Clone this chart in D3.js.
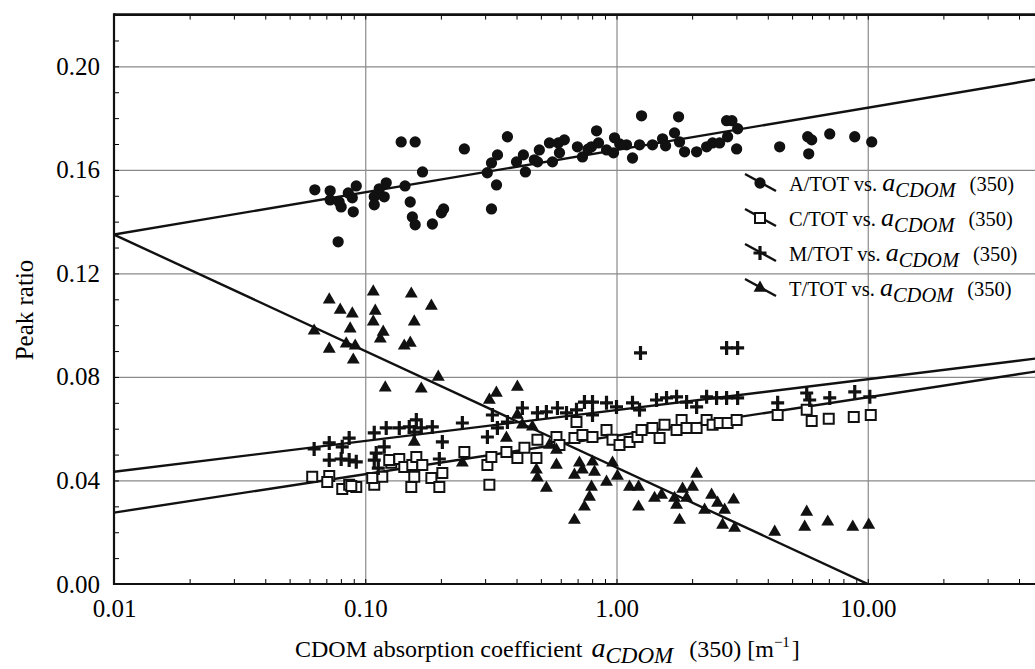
<!DOCTYPE html>
<html>
<head>
<meta charset="utf-8">
<script src="https://cdn.jsdelivr.net/npm/d3@7"></script>
<style>
  body { margin: 0; background: #fff; }
  svg { display: block; font-family: "Liberation Serif", "Times New Roman", serif; }
</style>
</head>
<body>
<div class="chart"></div>
<script>
// Peak ratios vs CDOM absorption (x = a_CDOM(350), y = ratio)
const seriesA = [
  [0.063, 0.1523], [0.0725, 0.1519], [0.0725, 0.1484], [0.0787, 0.1476], [0.0802, 0.1457],
  [0.0856, 0.1511], [0.0888, 0.1492], [0.0921, 0.1538], [0.0896, 0.1438], [0.078, 0.1322],
  [0.1086, 0.1496], [0.1086, 0.1465], [0.1137, 0.1527], [0.1212, 0.155], [0.119, 0.1496],
  [0.139, 0.1708], [0.158, 0.1708], [0.144, 0.1538], [0.151, 0.1476], [0.154, 0.1418],
  [0.158, 0.1388], [0.169, 0.1592], [0.185, 0.1391], [0.201, 0.1434], [0.205, 0.1449],
  [0.248, 0.1681], [0.306, 0.1589], [0.318, 0.1627], [0.333, 0.1542], [0.336, 0.1658],
  [0.318, 0.1449], [0.368, 0.1728], [0.40, 0.1631], [0.426, 0.1658], [0.434, 0.1592],
  [0.471, 0.1639], [0.493, 0.1677], [0.485, 0.1631], [0.541, 0.1704], [0.556, 0.1631],
  [0.587, 0.1704], [0.593, 0.1666], [0.62, 0.1716], [0.699, 0.1689], [0.732, 0.165],
  [0.77, 0.168], [0.795, 0.1689], [0.833, 0.1751], [0.848, 0.1704], [0.913, 0.1677],
  [0.982, 0.1724], [0.973, 0.1666], [1.03, 0.170], [1.096, 0.1697], [1.158, 0.1646],
  [1.258, 0.1809], [1.235, 0.1697], [1.391, 0.1697], [1.525, 0.172], [1.568, 0.1693],
  [1.702, 0.1743], [1.766, 0.1805], [1.782, 0.1708], [1.866, 0.167], [2.084, 0.167],
  [2.284, 0.1689], [2.413, 0.1704], [2.573, 0.1704], [2.743, 0.179], [2.88, 0.179],
  [2.768, 0.1728], [3.007, 0.1681], [3.035, 0.1759], [4.461, 0.1689], [5.768, 0.1728],
  [5.983, 0.1716], [5.821, 0.1662], [7.058, 0.1739], [8.877, 0.1728], [10.37, 0.1708]
];

const seriesC = [
  [0.0615, 0.0414], [0.0719, 0.0417], [0.0706, 0.0394], [0.081, 0.0367], [0.0863, 0.0383],
  [0.0921, 0.0375], [0.088, 0.0379], [0.1086, 0.0383], [0.1169, 0.0414], [0.1269, 0.0468],
  [0.1066, 0.041], [0.1246, 0.0479], [0.1366, 0.0483], [0.143, 0.0452], [0.1539, 0.046],
  [0.1597, 0.0491], [0.1687, 0.046], [0.1567, 0.0414], [0.1525, 0.0375], [0.1833, 0.041],
  [0.1972, 0.0375], [0.2027, 0.0429], [0.248, 0.051], [0.3119, 0.0383], [0.3063, 0.046],
  [0.3177, 0.0491], [0.3646, 0.051], [0.4032, 0.0487], [0.4301, 0.0526], [0.4801, 0.0487],
  [0.4845, 0.0557], [0.5768, 0.0568], [0.5929, 0.0537], [0.6802, 0.0564], [0.7319, 0.0576],
  [0.693, 0.0626], [0.8026, 0.0568], [0.9125, 0.0595], [0.9641, 0.0557], [1.028, 0.0537],
  [1.127, 0.0549], [1.212, 0.0568], [1.258, 0.0595], [1.391, 0.0603], [1.484, 0.0564],
  [1.553, 0.0615], [1.734, 0.0595], [1.816, 0.0634], [1.901, 0.0603], [2.084, 0.0603],
  [2.284, 0.0634], [2.413, 0.0615], [2.573, 0.0622], [2.768, 0.0622], [3.007, 0.0634],
  [4.38, 0.0653], [5.715, 0.0673], [5.983, 0.063], [6.994, 0.0638], [8.796, 0.0645],
  [10.28, 0.0653]
];

const seriesM = [
  [0.0626, 0.0522], [0.0719, 0.0545], [0.081, 0.053], [0.0863, 0.0564], [0.0719, 0.0479],
  [0.0802, 0.0483], [0.0863, 0.0479], [0.0921, 0.0472], [0.1086, 0.0584], [0.1212, 0.0603],
  [0.1106, 0.0506], [0.119, 0.053], [0.1127, 0.0448], [0.1086, 0.0479], [0.1366, 0.0603],
  [0.1497, 0.0607], [0.1597, 0.0634], [0.1671, 0.0603], [0.1849, 0.0607], [0.1567, 0.0587],
  [0.2027, 0.0549], [0.1972, 0.0483], [0.2435, 0.0622], [0.3063, 0.0568], [0.3206, 0.0653],
  [0.3357, 0.0603], [0.368, 0.0626], [0.4221, 0.068], [0.4845, 0.0661], [0.526, 0.0665],
  [0.5821, 0.068], [0.6324, 0.0661], [0.693, 0.0673], [0.7455, 0.0703], [0.8026, 0.0703],
  [0.9125, 0.07], [1.0, 0.0684], [1.158, 0.07], [1.235, 0.0673], [1.443, 0.0711],
  [1.582, 0.0719], [1.734, 0.0723], [1.901, 0.0703], [2.084, 0.0684], [2.284, 0.0723],
  [2.502, 0.0719], [2.743, 0.0719], [3.035, 0.0719], [0.8026, 0.0653], [1.246, 0.0893],
  [2.743, 0.0912], [3.035, 0.0912], [4.38, 0.07], [5.715, 0.0738], [5.874, 0.0711],
  [7.058, 0.0719], [8.877, 0.0742], [10.19, 0.0723]
];

const seriesT = [
  [0.0626, 0.0978], [0.0719, 0.1098], [0.0795, 0.1059], [0.0888, 0.1044], [0.0871, 0.0986],
  [0.0719, 0.0908], [0.084, 0.0928], [0.0912, 0.092], [0.0896, 0.0866], [0.1076, 0.1129],
  [0.1096, 0.1055], [0.1076, 0.1013], [0.1179, 0.0974], [0.1148, 0.0947], [0.1525, 0.1121],
  [0.1833, 0.1074], [0.1567, 0.1013], [0.1511, 0.0931], [0.143, 0.092], [0.1953, 0.08],
  [0.1201, 0.0758], [0.1671, 0.0754], [0.4032, 0.0761], [0.3326, 0.0738], [0.3119, 0.0711],
  [0.4032, 0.0653], [0.4221, 0.0615], [0.4627, 0.0607], [0.1567, 0.0549], [0.3646, 0.0564],
  [0.2435, 0.0468], [0.4801, 0.0441], [0.4845, 0.041], [0.5768, 0.046], [0.526, 0.0371],
  [0.6802, 0.0421], [0.7319, 0.0441], [0.7455, 0.0298], [0.6802, 0.0247], [0.541, 0.0537],
  [0.5768, 0.0518], [0.712, 0.0468], [0.8026, 0.0472], [0.8176, 0.0433], [0.9641, 0.0468],
  [1.009, 0.0417], [0.9125, 0.0394], [0.7953, 0.0375], [0.7808, 0.0336], [1.127, 0.0375],
  [1.224, 0.0375], [1.224, 0.0298], [2.084, 0.0425], [1.417, 0.0332], [1.511, 0.0344],
  [1.702, 0.0332], [1.734, 0.0305], [1.832, 0.0367], [2.009, 0.0375], [1.901, 0.0332],
  [1.782, 0.0247], [2.39, 0.0344], [2.525, 0.0313], [2.925, 0.0325], [2.242, 0.0286],
  [2.694, 0.0286], [2.644, 0.0228], [2.952, 0.0216], [4.262, 0.0201], [5.715, 0.0278],
  [5.61, 0.022], [6.93, 0.024], [8.715, 0.022], [10.09, 0.0228]
];

// regression lines: ratio = intercept + slope * log10(a_CDOM)
const fitNames = ["A/TOT", "C/TOT", "M/TOT", "T/TOT"];
const fitIntercept = [0.1677, 0.0573, 0.0672, 0.045];
const fitSlope = [0.01633, 0.01486, 0.01193, -0.045];

const xMajor = [0.01, 0.1, 1, 10];
const yMajor = [0, 0.04, 0.08, 0.12, 0.16, 0.2];

const W = 1035, H = 669;
const plotLeft = 114, plotRight = 1119, plotTop = 14.6, plotBottom = 584;

const svg = d3.select(".chart").append("svg")
  .attr("width", W).attr("height", H);

const x = d3.scaleLog().domain([0.01, 100]).range([plotLeft, plotRight]);
const y = d3.scaleLinear().domain([0, 0.22]).range([plotBottom, plotTop]);

svg.append("defs").append("clipPath").attr("id", "plot")
  .append("rect").attr("x", plotLeft).attr("y", plotTop)
  .attr("width", plotRight - plotLeft).attr("height", plotBottom - plotTop);

// grid
svg.append("g")
  .attr("transform", `translate(0,${plotBottom})`)
  .call(d3.axisBottom(x).tickValues(xMajor.slice(1)).tickSize(-(plotBottom - plotTop)).tickFormat(""))
  .call(g => g.select(".domain").remove())
  .selectAll("line").attr("stroke", "#8a8a8a").attr("stroke-width", 1.2);

svg.append("g")
  .attr("transform", `translate(${plotLeft},0)`)
  .call(d3.axisLeft(y).tickValues(yMajor.slice(1)).tickSize(-(plotRight - plotLeft)).tickFormat(""))
  .call(g => g.select(".domain").remove())
  .selectAll("line").attr("stroke", "#8a8a8a").attr("stroke-width", 1.2);

// minor / major ticks, pointing inward
const xTicks = x.ticks().filter(d => d < 100);
svg.append("g")
  .attr("transform", `translate(0,${plotBottom})`)
  .call(d3.axisBottom(x).tickValues(xTicks).tickSize(-5).tickFormat(""))
  .call(g => g.select(".domain").remove());
svg.append("g")
  .attr("transform", `translate(0,${plotTop})`)
  .call(d3.axisTop(x).tickValues(xTicks).tickSize(-5).tickFormat(""))
  .call(g => g.select(".domain").remove());
svg.append("g")
  .attr("transform", `translate(${plotLeft},0)`)
  .call(d3.axisLeft(y).tickValues(d3.range(0, 0.2201, 0.01)).tickSize(-5).tickFormat(""))
  .call(g => g.select(".domain").remove());

// tick labels
svg.append("g")
  .attr("transform", `translate(0,${plotBottom})`)
  .call(d3.axisBottom(x).tickValues(xMajor).tickSize(0).tickPadding(15).tickFormat(d3.format(".2f")))
  .call(g => g.select(".domain").remove())
  .selectAll("text")
  .style("font-family", "Liberation Serif, serif")
  .style("font-size", "25px")
  .attr("fill", "#000");

svg.append("g")
  .attr("transform", `translate(${plotLeft},0)`)
  .call(d3.axisLeft(y).tickValues(yMajor).tickSize(0).tickPadding(14).tickFormat(d3.format(".2f")))
  .call(g => g.select(".domain").remove())
  .selectAll("text")
  .style("font-family", "Liberation Serif, serif")
  .style("font-size", "25px")
  .attr("fill", "#000");

// regression lines
const plot = svg.append("g").attr("clip-path", "url(#plot)");
fitNames.forEach((name, i) => {
  const ends = x.domain().map(v => [v, fitIntercept[i] + fitSlope[i] * Math.log10(v)]);
  plot.append("path")
    .datum(ends)
    .attr("fill", "none")
    .attr("stroke", "#111")
    .attr("stroke-width", 2.4)
    .attr("d", d3.line().x(d => x(d[0])).y(d => y(d[1])));
});

// markers
const circle = d3.symbol().type(d3.symbolCircle).size(100)();
const tri = d3.symbol().type(d3.symbolTriangle).size(72)();
const square = "M-5,-5H5V5H-5Z";
const plus = "M-6.5,0H6.5M0,-7V7";

function drawMarks(data, shape, fill, stroke, sw) {
  plot.append("g").selectAll("path")
    .data(data)
    .join("path")
    .attr("transform", d => `translate(${x(d[0])},${y(d[1])})`)
    .attr("d", shape)
    .attr("fill", fill)
    .attr("stroke", stroke)
    .attr("stroke-width", sw);
}
drawMarks(seriesC, square, "#fff", "#111", 2);
drawMarks(seriesM, plus, "none", "#111", 3.2);
drawMarks(seriesT, tri, "#111", "none", 0);
drawMarks(seriesA, circle, "#111", "none", 0);

// spines
svg.append("line").attr("x1", plotLeft).attr("x2", W).attr("y1", plotBottom).attr("y2", plotBottom)
  .attr("stroke", "#111").attr("stroke-width", 2.2);
svg.append("line").attr("x1", plotLeft).attr("x2", W).attr("y1", plotTop).attr("y2", plotTop)
  .attr("stroke", "#111").attr("stroke-width", 2.6);
svg.append("line").attr("x1", plotLeft).attr("x2", plotLeft).attr("y1", plotTop - 1.3).attr("y2", plotBottom + 1.1)
  .attr("stroke", "#111").attr("stroke-width", 2.2);

// legend
const legendShapes = [circle, square, plus, tri];
const legend = svg.append("g").attr("transform", "translate(760,183)");
fitNames.forEach((name, i) => {
  const row = legend.append("g").attr("transform", `translate(0,${i * 35})`);
  row.append("line")
    .attr("x1", -15).attr("y1", -9).attr("x2", 16).attr("y2", 8)
    .attr("stroke", "#111").attr("stroke-width", 2.4);
  row.append("path")
    .attr("d", legendShapes[i])
    .attr("fill", i === 1 ? "#fff" : i === 2 ? "none" : "#111")
    .attr("stroke", i === 1 || i === 2 ? "#111" : "none")
    .attr("stroke-width", i === 2 ? 3.2 : 2);
  const t = row.append("text")
    .attr("x", 29).attr("y", 8)
    .style("font-size", "20.5px")
    .attr("fill", "#000");
  t.append("tspan").text(name + " vs. ");
  t.append("tspan").style("font-style", "italic").style("font-size", "26px").text("a");
  t.append("tspan").style("font-style", "italic").attr("dy", 6).text("CDOM");
  t.append("tspan").attr("dy", -6).attr("dx", 14).text("(350)");
});

// axis titles
svg.append("text")
  .attr("transform", "rotate(-90)")
  .attr("x", -310).attr("y", 33)
  .attr("text-anchor", "middle")
  .style("font-size", "25px")
  .attr("fill", "#000")
  .text("Peak ratio");

const xl = svg.append("text")
  .attr("x", 295).attr("y", 657)
  .style("font-size", "24px")
  .attr("fill", "#000");
xl.append("tspan").text("CDOM absorption coefficient");
xl.append("tspan").attr("dx", 9).style("font-style", "italic").style("font-size", "28px").text("a");
xl.append("tspan").attr("dy", 6).style("font-style", "italic").style("font-size", "23px").text("CDOM");
xl.append("tspan").attr("dy", -6).attr("dx", 16).text("(350) [m");
xl.append("tspan").attr("dy", -10).style("font-size", "15px").text("−1");
xl.append("tspan").attr("dy", 10).attr("dx", 2).text("]");
</script>
</body>
</html>
